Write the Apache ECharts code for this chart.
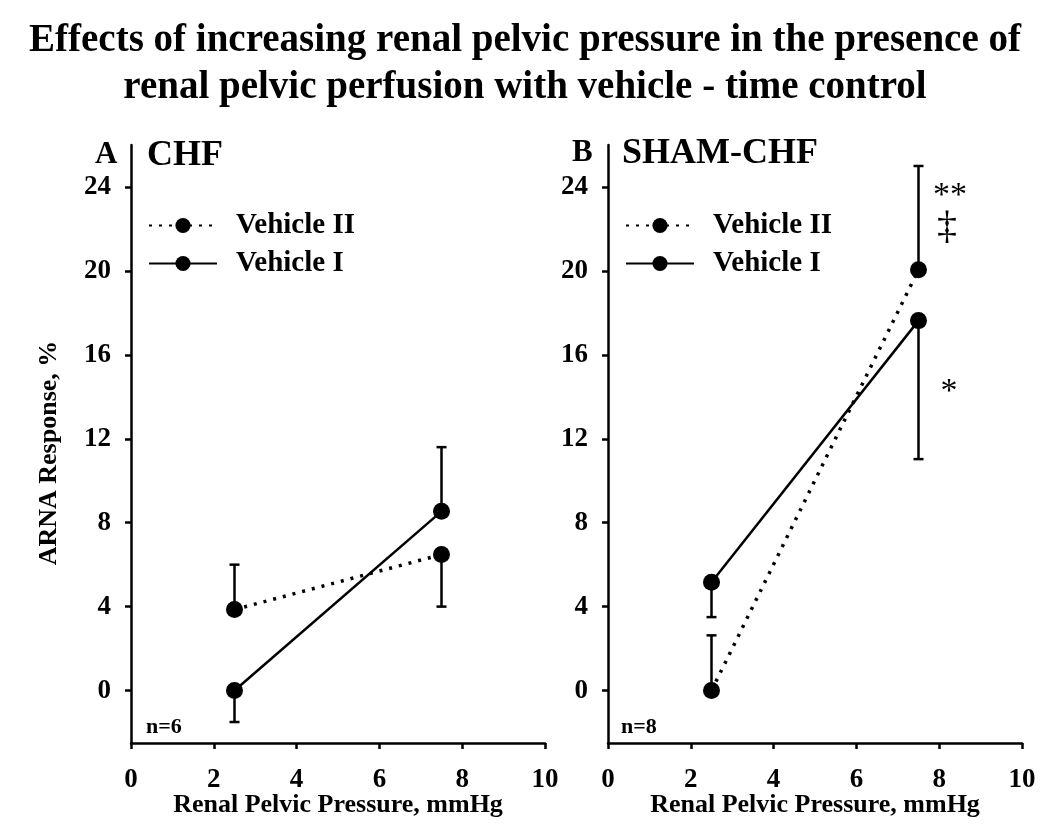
<!DOCTYPE html>
<html><head><meta charset="utf-8">
<script src="https://cdn.jsdelivr.net/npm/echarts@6/dist/echarts.min.js"></script>
<style>html,body{margin:0;padding:0;background:#fff}#c{width:1050px;height:835px}</style>
</head><body><div id="c"></div>
<script>
// ---- data ----
const pressure = [2.5, 7.5];
const xTicks = [0, 2, 4, 6, 8, 10];
const yTicks = [0, 4, 8, 12, 16, 20, 24];
const seriesNames = ['Vehicle II', 'Vehicle I'];
// Panel A: CHF
const chfVehicleII = [3.86, 6.48];
const chfVehicleIIErrEnd = [6.0, 4.0];
const chfVehicleI = [0, 8.54];
const chfVehicleIErrEnd = [-1.5, 11.6];
// Panel B: SHAM-CHF
const shamVehicleII = [0, 20.05];
const shamVehicleIIErrEnd = [2.63, 25.0];
const shamVehicleI = [5.16, 17.63];
const shamVehicleIErrEnd = [3.5, 11.03];

const FONT = '"Liberation Serif","Times New Roman",serif';
const chart = echarts.init(document.getElementById('c'), null, {renderer: 'canvas'});

function pts(ys) { return pressure.map((x, i) => [x, ys[i]]); }
function errData(ys, ends) { return pressure.map((x, i) => [x, ys[i], ends[i]]); }

function errSeries(idx, ys, ends) {
  return {
    type: 'custom', xAxisIndex: idx, yAxisIndex: idx, z: 1, silent: true,
    data: errData(ys, ends),
    renderItem: function (params, api) {
      const p0 = api.coord([api.value(0), api.value(1)]);
      const p1 = api.coord([api.value(0), api.value(2)]);
      const hw = 5;
      return {
        type: 'group',
        children: [
          {type: 'line', shape: {x1: p0[0], y1: p0[1], x2: p1[0], y2: p1[1]}, style: {stroke: '#000', lineWidth: 2.5}},
          {type: 'line', shape: {x1: p1[0] - hw, y1: p1[1], x2: p1[0] + hw, y2: p1[1]}, style: {stroke: '#000', lineWidth: 2.5}}
        ]
      };
    }
  };
}
function lineSeries(idx, name, ys, dotted) {
  return {
    type: 'line', name: name, xAxisIndex: idx, yAxisIndex: idx, z: 3,
    data: pts(ys), symbol: 'circle', symbolSize: 17, showSymbol: true,
    itemStyle: {color: '#000'},
    lineStyle: dotted ? {color: '#000', width: 3.5, type: [3, 7]} : {color: '#000', width: 2.5},
    animation: false
  };
}

const gridTop = 145, gridH = 598, gridW = 414;
const grids = [
  {left: 131, top: gridTop, width: gridW, height: gridH},
  {left: 608, top: gridTop, width: gridW, height: gridH}
];
function xAx(idx) {
  return {
    type: 'value', gridIndex: idx, min: 0, max: 10, interval: 2,
    name: 'Renal Pelvic Pressure, mmHg', nameLocation: 'middle', nameGap: 49, nameMoveOverlap: false,
    nameTextStyle: {fontFamily: FONT, fontWeight: 'bold', fontSize: 26, color: '#000'},
    axisLine: {onZero: false, lineStyle: {color: '#000', width: 2.5}},
    axisTick: {show: true, length: 6, lineStyle: {color: '#000', width: 2.5}},
    axisLabel: {fontFamily: FONT, fontWeight: 'bold', fontSize: 27, color: '#000', margin: 24},
    splitLine: {show: false}
  };
}
function yAx(idx) {
  return {
    type: 'value', gridIndex: idx, min: -2.5, max: 26,
    axisLine: {onZero: false, lineStyle: {color: '#000', width: 2.5}},
    axisTick: {show: true, length: 6, customValues: yTicks, lineStyle: {color: '#000', width: 2.5}},
    axisLabel: {customValues: yTicks, fontFamily: FONT, fontWeight: 'bold', fontSize: 27, color: '#000', margin: 20},
    splitLine: {show: false}
  };
}
function legend(left) {
  return {
    data: seriesNames, orient: 'vertical', left: left, top: 211, itemWidth: 68, itemHeight: 19, itemGap: 9,
    selectedMode: false, padding: 0,
    textStyle: {fontFamily: FONT, fontWeight: 'bold', fontSize: 29, lineHeight: 29, color: '#000', padding: [0, 0, 0, 14]}
  };
}

const option = {
  backgroundColor: '#fff',
  animation: false,
  grid: grids,
  xAxis: [xAx(0), xAx(1)],
  yAxis: [yAx(0), yAx(1)],
  legend: [legend(148), legend(625)],
  series: [
    errSeries(0, chfVehicleII, chfVehicleIIErrEnd),
    errSeries(0, chfVehicleI, chfVehicleIErrEnd),
    lineSeries(0, seriesNames[0], chfVehicleII, true),
    lineSeries(0, seriesNames[1], chfVehicleI, false),
    errSeries(1, shamVehicleII, shamVehicleIIErrEnd),
    errSeries(1, shamVehicleI, shamVehicleIErrEnd),
    lineSeries(1, seriesNames[0], shamVehicleII, true),
    lineSeries(1, seriesNames[1], shamVehicleI, false)
  ],
  graphic: [
    {type: 'text', x: 525, y: 41, style: {text: 'Effects of increasing renal pelvic pressure in the presence of', font: 'bold 39px ' + FONT, fill: '#000', textAlign: 'center', textVerticalAlign: 'middle'}},
    {type: 'text', x: 525, y: 88, style: {text: 'renal pelvic perfusion with vehicle - time control', font: 'bold 39px ' + FONT, fill: '#000', textAlign: 'center', textVerticalAlign: 'middle'}},
    {type: 'text', x: 95, y: 155, style: {text: 'A', font: 'bold 31px ' + FONT, fill: '#000', textAlign: 'left', textVerticalAlign: 'middle'}},
    {type: 'text', x: 147, y: 156, style: {text: 'CHF', font: 'bold 36px ' + FONT, fill: '#000', textAlign: 'left', textVerticalAlign: 'middle'}},
    {type: 'text', x: 572, y: 153, style: {text: 'B', font: 'bold 31px ' + FONT, fill: '#000', textAlign: 'left', textVerticalAlign: 'middle'}},
    {type: 'text', x: 622, y: 154, style: {text: 'SHAM-CHF', font: 'bold 36px ' + FONT, fill: '#000', textAlign: 'left', textVerticalAlign: 'middle'}},
    {type: 'text', x: 146, y: 727, style: {text: 'n=6', font: 'bold 22px ' + FONT, fill: '#000', textAlign: 'left', textVerticalAlign: 'middle'}},
    {type: 'text', x: 621, y: 727, style: {text: 'n=8', font: 'bold 22px ' + FONT, fill: '#000', textAlign: 'left', textVerticalAlign: 'middle'}},
    {type: 'text', x: 49, y: 453, rotation: Math.PI / 2, style: {text: 'ARNA Response, %', font: 'bold 26px ' + FONT, fill: '#000', textAlign: 'center', textVerticalAlign: 'middle'}},
    {type: 'text', x: 950, y: 196, style: {text: '**', font: '34px ' + FONT, fill: '#000', textAlign: 'center', textVerticalAlign: 'middle'}},
    {type: 'text', x: 947, y: 227, style: {text: '\u2021', font: '40px ' + FONT, fill: '#000', textAlign: 'center', textVerticalAlign: 'middle'}},
    {type: 'text', x: 949, y: 392, style: {text: '*', font: '34px ' + FONT, fill: '#000', textAlign: 'center', textVerticalAlign: 'middle'}}
  ]
};
chart.setOption(option);
</script>
</body></html>
